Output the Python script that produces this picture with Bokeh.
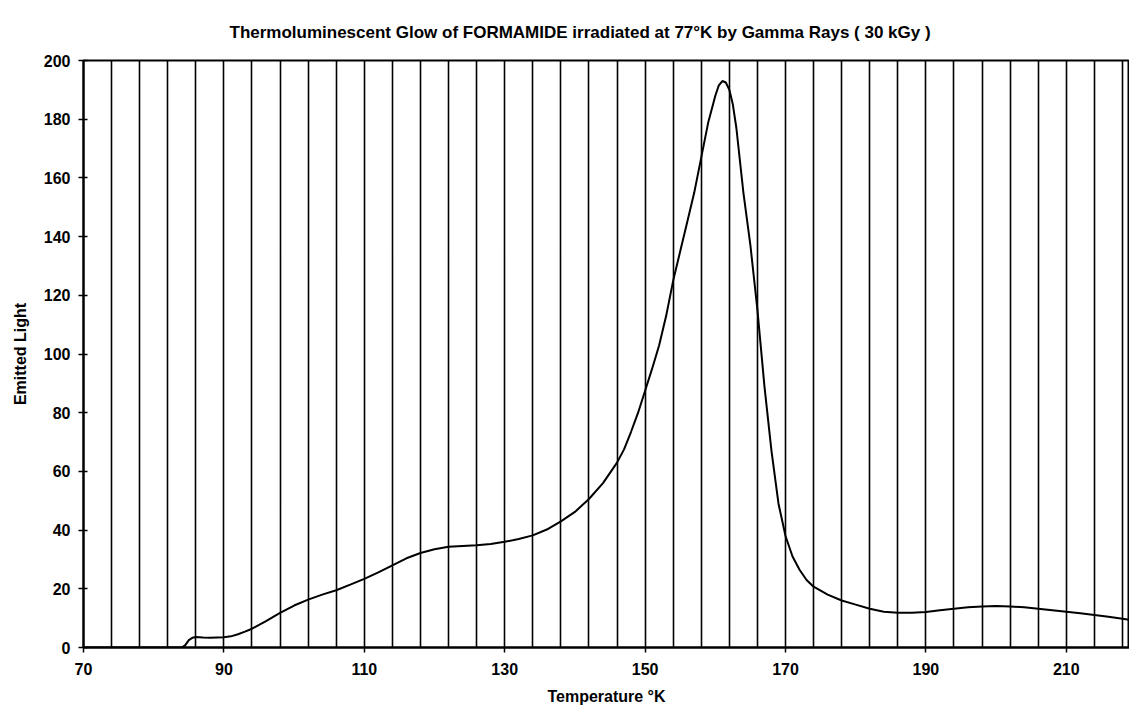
from bokeh.plotting import figure
from bokeh.models import FixedTicker, Range1d
from bokeh.embed import file_html
from bokeh.resources import INLINE

title_text = "Thermoluminescent Glow of FORMAMIDE irradiated at 77°K by Gamma Rays ( 30 kGy )"
x_label = "Temperature °K"
y_label = "Emitted Light"

temperature = [70, 84, 84.5, 85, 85.5, 86, 87, 88, 89, 90, 91, 92, 93, 94, 96, 98, 100,
               102, 104, 106, 108, 110, 112, 114, 116, 118, 120, 122, 124, 126, 128, 130,
               132, 134, 136, 138, 140, 142, 144, 146, 147, 148, 149, 150, 151, 152, 153,
               154, 155, 156, 157, 158, 159, 160, 160.5, 161, 161.5, 162, 162.5, 163, 164, 165, 166, 167, 168,
               169, 170, 171, 172, 173, 174, 176, 178, 180, 182, 184, 186, 188, 190, 192,
               194, 196, 198, 200, 202, 204, 206, 208, 210, 212, 214, 216, 218, 219]
emitted = [0, 0, 0.8, 2.5, 3.3, 3.6, 3.4, 3.3, 3.4, 3.5, 3.8, 4.5, 5.4, 6.4, 9.0, 11.8, 14.3,
           16.3, 18.0, 19.5, 21.4, 23.4, 25.6, 28.0, 30.4, 32.2, 33.5, 34.3, 34.6, 34.8, 35.3, 36.0,
           37.0, 38.2, 40.2, 43.0, 46.2, 50.6, 56.0, 63.0, 67.5, 73.5, 80, 87.5, 95, 103, 113,
           125, 135, 145, 155, 167, 179, 188, 191.5, 193, 192.5, 190, 185, 177, 155, 137, 115, 89, 67,
           49, 38, 31, 26.5, 23, 20.7, 18, 16, 14.6, 13.2, 12.2, 11.8, 11.8, 12.1, 12.7,
           13.2, 13.7, 14.0, 14.1, 14.0, 13.7, 13.2, 12.7, 12.2, 11.7, 11.1, 10.5, 9.8, 9.4]

x_ticks = [70, 90, 110, 130, 150, 170, 190, 210]
y_ticks = [0, 20, 40, 60, 80, 100, 120, 140, 160, 180, 200]
grid_ticks = list(range(70, 219, 4))

FONT = "Liberation Sans"

p = figure(width=1129, height=707, output_backend="svg", toolbar_location=None,
           x_range=Range1d(70, 219), y_range=Range1d(0, 200),
           min_border_left=83, min_border_right=0, min_border_top=60, min_border_bottom=60)

p.background_fill_color = "white"
p.border_fill_color = "white"
p.outline_line_color = "black"
p.outline_line_width = 2

p.title.text = title_text
p.title.align = "left"
p.title.offset = 146
p.title.vertical_align = "top"
p.title.text_font = FONT
p.title.text_font_style = "bold"
p.title.text_font_size = "17px"
p.title.text_color = "black"
p.title.standoff = 34

p.line(temperature, emitted, line_color="black", line_width=2)

p.xaxis.ticker = FixedTicker(ticks=x_ticks)
p.yaxis.ticker = FixedTicker(ticks=y_ticks)
p.xgrid.ticker = FixedTicker(ticks=grid_ticks)
p.xgrid.grid_line_color = "black"
p.xgrid.grid_line_width = 1.6
p.xgrid.grid_line_alpha = 1.0
p.ygrid.grid_line_color = None

for ax in (p.xaxis, p.yaxis):
    ax.axis_line_color = "black"
    ax.axis_line_width = 2
    ax.major_tick_line_color = "black"
    ax.major_tick_line_width = 1.5
    ax.minor_tick_line_color = None
    ax.major_label_text_font = FONT
    ax.major_label_text_font_style = "bold"
    ax.major_label_text_font_size = "16px"
    ax.major_label_text_color = "black"
    ax.axis_label_text_font = FONT
    ax.axis_label_text_font_style = "bold"
    ax.axis_label_text_font_size = "16px"
    ax.axis_label_text_color = "black"

p.xaxis.axis_label = x_label
p.yaxis.axis_label = y_label
p.xaxis.major_tick_in = 0
p.xaxis.major_tick_out = 5
p.yaxis.major_tick_in = 4
p.yaxis.major_tick_out = 5
p.xaxis.major_label_standoff = 10
p.yaxis.major_label_standoff = 8
p.xaxis.axis_label_standoff = 10
p.yaxis.axis_label_standoff = 12

open("out.html", "w").write(file_html(p, INLINE))
